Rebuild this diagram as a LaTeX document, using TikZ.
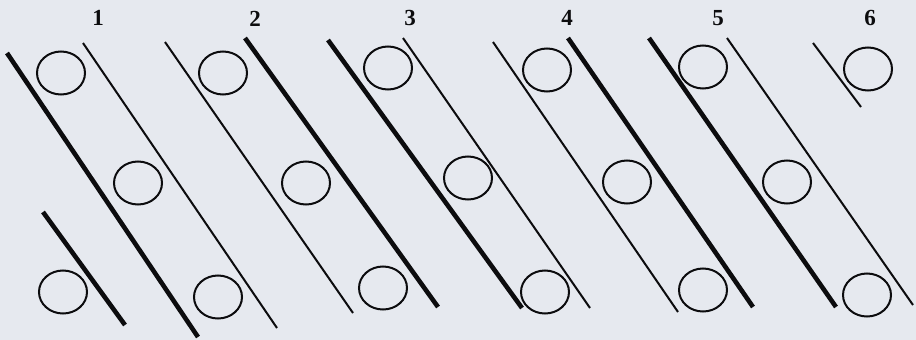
\documentclass[tikz,border=0pt]{standalone}
\usepackage{fontspec}
\setmainfont{Liberation Serif}
\usetikzlibrary{shapes.geometric}
\definecolor{bgc}{RGB}{230,233,239}
\definecolor{ink}{RGB}{12,12,14}
\tikzset{
  ring/.style={ellipse, draw=ink, line width=2pt, minimum width=48pt, minimum height=43pt, inner sep=0pt},
  thinrod/.style={draw=ink, line width=2pt},
  thickrod/.style={draw=ink, line width=4.6pt},
  lbl/.style={font=\fontsize{23}{25}\selectfont\bfseries, text=ink, inner sep=0pt}
}
\begin{document}
\begin{tikzpicture}[x=1pt,y=-1pt]
\fill[bgc] (0,0) rectangle (916,340);
\useasboundingbox (0,0) rectangle (916,340);
% labels
\node[lbl] (l1) at (98,18) {1};
\node[lbl] (l2) at (255,19) {2};
\node[lbl] (l3) at (410,18) {3};
\node[lbl] (l4) at (567,18) {4};
\node[lbl] (l5) at (718,18) {5};
\node[lbl] (l6) at (870,18) {6};
% group 1
\coordinate (a1) at (7,53);   \coordinate (a2) at (198,337);
\coordinate (b1) at (83,43);  \coordinate (b2) at (277,328);
\coordinate (c1) at (43,212); \coordinate (c2) at (125,325);
\draw[thickrod] (a1) -- (a2);
\draw[thinrod] (b1) -- (b2);
\draw[thickrod] (c1) -- (c2);
\node[ring] (r11) at (61,73) {};
\node[ring] (r12) at (138,183) {};
\node[ring] (r13) at (63,292) {};
\node[ring] (r14) at (218,297) {};
% group 2
\coordinate (d1) at (165,42); \coordinate (d2) at (353,313);
\coordinate (e1) at (245,38); \coordinate (e2) at (438,307);
\draw[thinrod] (d1) -- (d2);
\draw[thickrod] (e1) -- (e2);
\node[ring] (r21) at (223,73) {};
\node[ring] (r22) at (306,183) {};
\node[ring] (r23) at (383,288) {};
% group 3
\coordinate (f1) at (328,40); \coordinate (f2) at (522,308);
\coordinate (g1) at (403,38); \coordinate (g2) at (590,308);
\draw[thickrod] (f1) -- (f2);
\draw[thinrod] (g1) -- (g2);
\node[ring] (r31) at (388,68) {};
\node[ring] (r32) at (468,178) {};
\node[ring] (r33) at (545,292) {};
% group 4
\coordinate (h1) at (493,42); \coordinate (h2) at (678,312);
\coordinate (i1) at (568,38); \coordinate (i2) at (753,307);
\draw[thinrod] (h1) -- (h2);
\draw[thickrod] (i1) -- (i2);
\node[ring] (r41) at (547,70) {};
\node[ring] (r42) at (627,182) {};
\node[ring] (r43) at (703,290) {};
% group 5
\coordinate (j1) at (649,38); \coordinate (j2) at (836,307);
\coordinate (k1) at (727,38); \coordinate (k2) at (913,305);
\draw[thickrod] (j1) -- (j2);
\draw[thinrod] (k1) -- (k2);
\node[ring] (r51) at (703,67) {};
\node[ring] (r52) at (787,182) {};
\node[ring] (r53) at (867,295) {};
% group 6
\coordinate (m1) at (813,43); \coordinate (m2) at (861,107);
\draw[thinrod] (m1) -- (m2);
\node[ring] (r61) at (868,69) {};
\end{tikzpicture}
\end{document}
